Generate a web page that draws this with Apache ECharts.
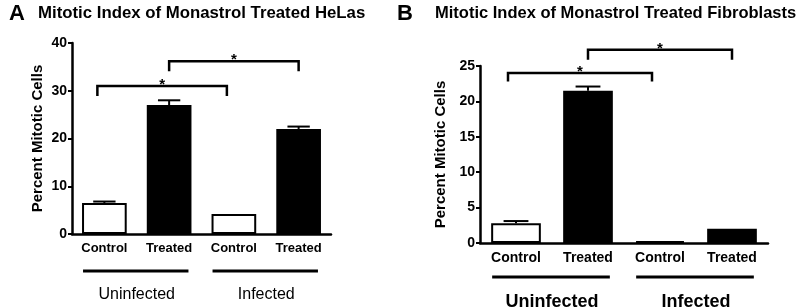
<!DOCTYPE html>
<html>
<head>
<meta charset="utf-8">
<script src="https://cdn.jsdelivr.net/npm/echarts@6/dist/echarts.min.js"></script>
<style>
  html, body { margin: 0; padding: 0; background: #fff; }
  #chart { width: 800px; height: 307px; }
</style>
</head>
<body>
<div id="chart"></div>
<script>
// categories along each x axis, and the two groups under them
const categories = ['Control', 'Treated', 'Control', 'Treated']
const groups = ['Uninfected', 'Infected']
const groupSpans = [[0, 1], [2, 3]]

// Panel A — HeLa cells
const helaMean = [6.5, 27.0, 4.2, 22.0]
const helaSem = [0.3, 1.0, 0, 0.5]
const helaTicks = [0, 10, 20, 30, 40]
// [from category, to category, bracket top value, leg bottom value]
const helaBrackets = [[0, 2, 31.0, 28.9], [1, 3, 36.2, 34.1]]

// Panel B — fibroblasts
const fibroMean = [2.8, 21.5, 0.25, 2.0]
const fibroSem = [0.3, 0.6, 0, 0]
const fibroTicks = [0, 5, 10, 15, 20, 25]
const fibroBrackets = [[0, 2, 24.0, 22.8], [1, 3, 27.3, 25.9]]

const FONT = 'Liberation Sans, Arial, Helvetica, sans-serif'
const BAR_FRAC = 0.69

const chart = echarts.init(document.getElementById('chart'))

function barItems(values) {
  // even index = control (open bar), odd index = treated (filled bar)
  return values.map((v, i) => ({
    value: v,
    itemStyle: { color: i % 2 ? '#000' : '#fff', borderColor: '#000', borderWidth: 2 },
  }))
}

function errorSeries(idx, mean, sem) {
  return {
    type: 'custom', xAxisIndex: idx * 2, yAxisIndex: idx, clip: false, z: 3,
    data: mean.map((m, i) => [i, m, sem[i]]),
    renderItem(params, api) {
      const e = api.value(2)
      if (!e) return null
      const base = api.coord([api.value(0), api.value(1)])
      const top = api.coord([api.value(0), api.value(1) + e])
      const half = api.size([1, 0])[0] * BAR_FRAC * 0.25
      const st = { stroke: '#000', lineWidth: 2 }
      return {
        type: 'group', children: [
          { type: 'line', shape: { x1: base[0], y1: base[1], x2: top[0], y2: top[1] }, style: st },
          { type: 'line', shape: { x1: top[0] - half, y1: top[1], x2: top[0] + half, y2: top[1] }, style: st },
        ],
      }
    },
  }
}

function bracketSeries(idx, brackets, nudge) {
  return {
    type: 'custom', xAxisIndex: idx * 2, yAxisIndex: idx, clip: false, z: 4,
    data: brackets,
    renderItem(params, api) {
      const dx = nudge[params.dataIndex] || 0
      const a = api.coord([api.value(0), api.value(2)])
      const b = api.coord([api.value(1), api.value(2)])
      const leg = api.coord([api.value(0), api.value(3)])[1]
      const x0 = a[0] + dx, x1 = b[0] + dx, y = a[1]
      return {
        type: 'group', children: [
          {
            type: 'polyline',
            shape: { points: [[x0, leg], [x0, y], [x1, y], [x1, leg]] },
            style: { stroke: '#000', lineWidth: 2.5, fill: null },
          },
          {
            type: 'text', x: (x0 + x1) / 2, y: y - 1,
            style: { text: '*', fill: '#000', font: 'bold 15px ' + FONT, align: 'center', verticalAlign: 'middle' },
          },
        ],
      }
    },
  }
}

function groupLineSeries(idx, below) {
  return {
    type: 'custom', xAxisIndex: idx * 2, yAxisIndex: idx, clip: false, z: 4,
    data: groupSpans,
    renderItem(params, api) {
      const half = api.size([1, 0])[0] * BAR_FRAC / 2
      const a = api.coord([api.value(0), 0])
      const b = api.coord([api.value(1), 0])
      const y = a[1] + below
      return {
        type: 'line',
        shape: { x1: a[0] - half + 1, y1: y, x2: b[0] + half - 3, y2: y },
        style: { stroke: '#000', lineWidth: 3 },
      }
    },
  }
}

function catAxis(grid, size) {
  return {
    gridIndex: grid, type: 'category', data: categories,
    axisLine: { lineStyle: { color: '#000', width: 2.5 } },
    axisTick: { alignWithLabel: true, length: 5, lineStyle: { color: '#000', width: 2 } },
    axisLabel: { color: '#000', fontWeight: 'bold', fontSize: size, margin: 8, fontFamily: FONT },
  }
}

function groupAxis(grid, size, weight, offset) {
  return {
    gridIndex: grid, type: 'category', data: groups, position: 'bottom', offset: offset,
    axisLine: { show: false }, axisTick: { show: false },
    axisLabel: { color: '#000', fontSize: size, fontWeight: weight, margin: 0, fontFamily: FONT },
  }
}

function valAxis(grid, ticks, size, gap) {
  return {
    gridIndex: grid, type: 'value',
    min: ticks[0], max: ticks[ticks.length - 1], interval: ticks[1] - ticks[0],
    splitLine: { show: false },
    axisLine: { show: true, lineStyle: { color: '#000', width: 2.5 } },
    axisTick: { show: true, length: 4, lineStyle: { color: '#000', width: 2 } },
    axisLabel: { color: '#000', fontWeight: 'bold', fontSize: size, margin: 5, fontFamily: FONT },
    name: 'Percent Mitotic Cells', nameLocation: 'middle', nameGap: gap,
    nameTextStyle: { color: '#000', fontWeight: 'bold', fontSize: 15, fontFamily: FONT },
  }
}

chart.setOption({
  animation: false,
  textStyle: { fontFamily: FONT },
  title: [
    { text: 'A', left: 9, top: 3, padding: 0, textStyle: { fontSize: 22, fontWeight: 'bold', color: '#000' } },
    { text: 'Mitotic Index of Monastrol Treated HeLas', left: 38, top: 5, padding: 0,
      textStyle: { fontSize: 16.8, fontWeight: 'bold', color: '#000' } },
    { text: 'B', left: 397, top: 3, padding: 0, textStyle: { fontSize: 22, fontWeight: 'bold', color: '#000' } },
    { text: 'Mitotic Index of Monastrol Treated Fibroblasts', left: 435, top: 5, padding: 0,
      textStyle: { fontSize: 16.5, fontWeight: 'bold', color: '#000' } },
  ],
  grid: [
    { left: 72, right: 469, top: 43, bottom: 73, outerBoundsMode: 'none' },
    { left: 480, right: 32, top: 66, bottom: 64, outerBoundsMode: 'none' },
  ],
  xAxis: [
    catAxis(0, 13), groupAxis(0, 16, 'normal', 53),
    catAxis(1, 14), groupAxis(1, 18, 'bold', 50),
  ],
  yAxis: [valAxis(0, helaTicks, 14, 27), valAxis(1, fibroTicks, 14, 32)],
  series: [
    { type: 'bar', xAxisIndex: 0, yAxisIndex: 0, barWidth: BAR_FRAC * 100 + '%', data: barItems(helaMean) },
    errorSeries(0, helaMean, helaSem),
    bracketSeries(0, helaBrackets, [-7, 0]),
    groupLineSeries(0, 37),
    { type: 'bar', xAxisIndex: 2, yAxisIndex: 1, barWidth: BAR_FRAC * 100 + '%', data: barItems(fibroMean) },
    errorSeries(1, fibroMean, fibroSem),
    bracketSeries(1, fibroBrackets, [-8, 0]),
    groupLineSeries(1, 34),
  ],
})
</script>
</body>
</html>
